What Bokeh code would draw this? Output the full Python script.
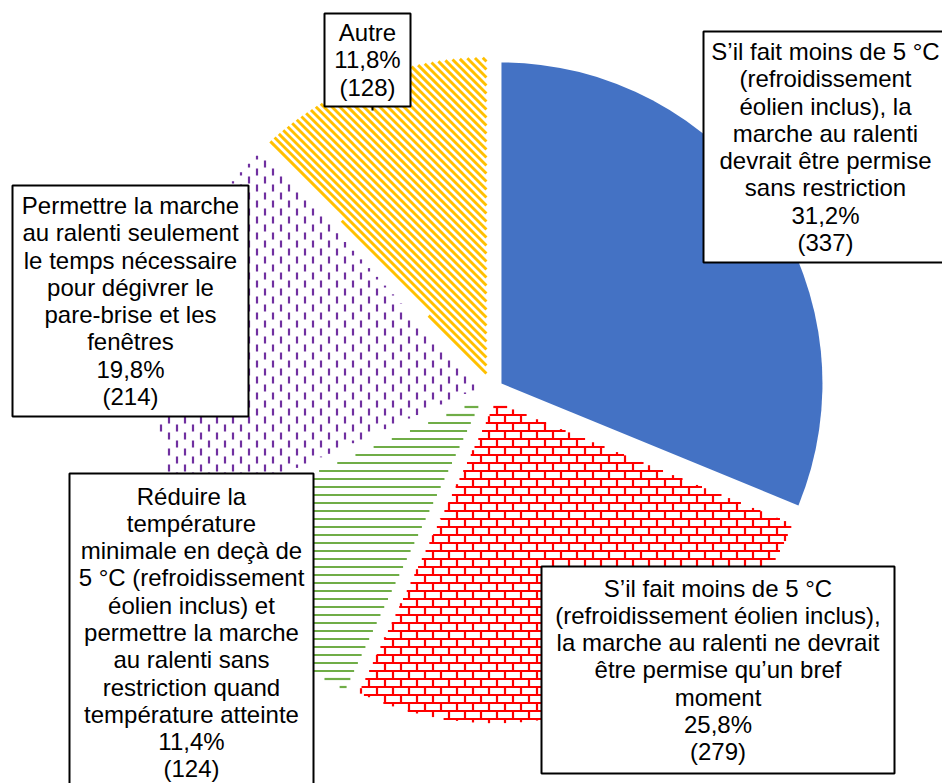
import math
import numpy as np
from bokeh.plotting import figure
from bokeh.models import Range1d, ColumnDataSource
from bokeh.embed import file_html
from bokeh.resources import INLINE
from bokeh.core.properties import value

# ---------------- data ----------------
categories = [
    "S’il fait moins de 5 °C\n(refroidissement\néolien inclus), la\nmarche au ralenti\ndevrait être permise\nsans restriction",
    "S’il fait moins de 5 °C\n(refroidissement éolien inclus),\nla marche au ralenti ne devrait\nêtre permise qu’un bref\nmoment",
    "Réduire la\ntempérature\nminimale en deçà de\n5 °C (refroidissement\néolien inclus) et\npermettre la marche\nau ralenti sans\nrestriction quand\ntempérature atteinte",
    "Permettre la marche\nau ralenti seulement\nle temps nécessaire\npour dégivrer le\npare-brise et les\nfenêtres",
    "Autre",
]
counts = [337, 279, 124, 214, 128]
percents = [31.2, 25.8, 11.4, 19.8, 11.8]
pct_labels = ["31,2%", "25,8%", "11,4%", "19,8%", "11,8%"]

# ---------------- styles / layout ----------------
colors = ["#4472C4", "#FF0000", "#70AD47", "#7030A0", "#FFC000"]
patterns = ["solid", "brick", "hline", "vdash", "diag"]
W, H = 942, 783
CX, CY = 490.5, 390.0        # screen px
R = 321.0
EXPLODE = 12.6
# label boxes: left, top, right, bottom (screen px)
boxes = [
    (703, 31, 947, 262),
    (541, 566, 894, 773),
    (69, 473, 313, 791),
    (12, 185, 248, 416),
    (324, 13, 410, 106),
]

def Y(py):
    return H - py

p = figure(width=W, height=H, x_range=Range1d(0, W), y_range=Range1d(0, H),
           x_axis_type=None, y_axis_type=None, toolbar_location=None,
           output_backend="svg", min_border=0, outline_line_color=None)
p.background_fill_color = "white"
p.border_fill_color = "white"


def clip(p0, p1, poly):
    """Cyrus-Beck clip of segment p0->p1 against CCW convex polygon."""
    d = (p1[0] - p0[0], p1[1] - p0[1])
    t0, t1 = 0.0, 1.0
    n = len(poly)
    for i in range(n):
        v = poly[i]
        w = poly[(i + 1) % n]
        ex, ey = w[0] - v[0], w[1] - v[1]
        nx, ny = -ey, ex
        num = nx * (p0[0] - v[0]) + ny * (p0[1] - v[1])
        den = nx * d[0] + ny * d[1]
        if abs(den) < 1e-12:
            if num < 0:
                return None
            continue
        t = -num / den
        if den > 0:
            t0 = max(t0, t)
        else:
            t1 = min(t1, t)
        if t0 > t1:
            return None
    return ((p0[0] + t0 * d[0], p0[1] + t0 * d[1]),
            (p0[0] + t1 * d[0], p0[1] + t1 * d[1]))


wx, wy, starts, ends, fills = [], [], [], [], []
hatch = []
cum = 0.0
for i, pc in enumerate(percents):
    th0 = cum / 100 * 2 * math.pi
    th1 = (cum + pc) / 100 * 2 * math.pi
    cum += pc
    mid = (th0 + th1) / 2
    ax = CX + EXPLODE * math.sin(mid)
    ay = Y(CY - EXPLODE * math.cos(mid))
    a_start = math.pi / 2 - th1
    a_end = math.pi / 2 - th0
    wx.append(ax); wy.append(ay); starts.append(a_start); ends.append(a_end)
    pat = patterns[i]
    fills.append(colors[i] if pat == "solid" else "white")
    if pat == "solid":
        hatch.append(None)
        continue
    angs = np.linspace(a_start, a_end, 120)
    poly = [(ax, ay)] + [(ax + R * math.cos(a), ay + R * math.sin(a)) for a in angs]
    xs_p = [q[0] for q in poly]; ys_p = [q[1] for q in poly]
    xmin, xmax, ymin, ymax = min(xs_p), max(xs_p), min(ys_p), max(ys_p)
    segs = []
    if pat in ("hline", "brick"):
        k0 = int(math.floor(ymin / 8))
        k1 = int(math.ceil(ymax / 8))
        for k in range(k0, k1 + 1):
            yy = k * 8 + 0.5
            segs.append(((xmin - 2, yy), (xmax + 2, yy)))
            if pat == "brick":
                off = 8 if k % 2 else 0
                j0 = int(math.floor((xmin - off) / 16))
                j1 = int(math.ceil((xmax - off) / 16))
                for j in range(j0, j1 + 1):
                    xx = j * 16 + off + 0.5
                    segs.append(((xx, yy), (xx, yy + 8)))
    elif pat == "vdash":
        j0 = int(math.floor(xmin / 8)); j1 = int(math.ceil(xmax / 8))
        for j in range(j0, j1 + 1):
            xx = j * 8 + 0.5
            off = 8 if j % 2 else 0
            m0 = int(math.floor((ymin - off) / 16)) - 1
            m1 = int(math.ceil((ymax - off) / 16)) + 1
            for m in range(m0, m1 + 1):
                y0 = m * 16 + off
                segs.append(((xx, y0), (xx, y0 + 7)))
    elif pat == "diag":
        c0 = int(math.floor((xmin + ymin) / 8)); c1 = int(math.ceil((xmax + ymax) / 8))
        for c in range(c0, c1 + 1):
            cc = c * 8
            segs.append(((cc - ymax - 2, ymax + 2), (cc - ymin + 2, ymin - 2)))
    lxs, lys = [], []
    for s in segs:
        r = clip(s[0], s[1], poly)
        if r is None:
            continue
        (x0, y0), (x1, y1) = r
        if abs(x1 - x0) + abs(y1 - y0) < 0.3:
            continue
        lxs.append([x0, x1]); lys.append([y0, y1])
    lw = {"hline": 2.2, "brick": 2.2, "vdash": 2.2, "diag": 2.9}[pat]
    hatch.append((lxs, lys, lw))

wedge_src = ColumnDataSource(dict(x=wx, y=wy, start=starts, end=ends, fill=fills))
p.wedge(x="x", y="y", radius=R, start_angle="start", end_angle="end",
        fill_color="fill", line_color=None, source=wedge_src)

for i, h in enumerate(hatch):
    if h is not None:
        lxs, lys, lw = h
        p.multi_line(xs=lxs, ys=lys, line_color=colors[i], line_width=lw, line_cap="butt")

# leader stub under "Autre"
p.segment(x0=[372], y0=[Y(106)], x1=[372], y1=[Y(110)], line_color="black", line_width=2)

# label boxes
p.quad(left=[b[0] for b in boxes], right=[b[2] for b in boxes],
       top=[Y(b[1]) for b in boxes], bottom=[Y(b[3]) for b in boxes],
       fill_color="white", line_color="black", line_width=2)

texts = [f"{c}\n{pl}\n({n})" for c, pl, n in zip(categories, pct_labels, counts)]
tx = [(b[0] + b[2]) / 2 for b in boxes]
ty = [Y((b[1] + b[3]) / 2) for b in boxes]
p.text(x=tx, y=ty, text=texts, text_align="center", text_baseline="middle",
       text_font=value("Liberation Sans"), text_font_size="24px",
       text_line_height=1.01, text_color="black")

open("out.html", "w").write(file_html(p, INLINE))
